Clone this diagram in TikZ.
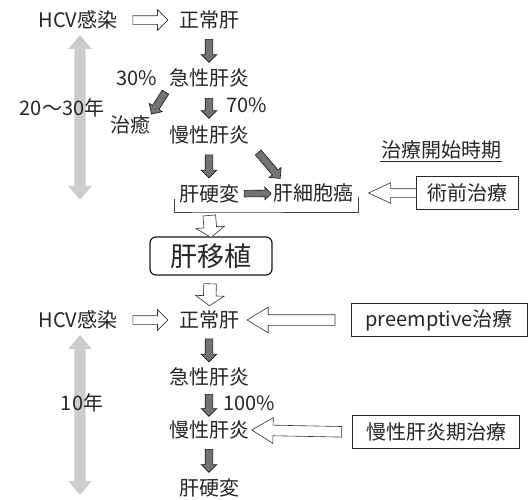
\documentclass[tikz,border=0pt]{standalone}
\usepackage{fontspec}
\setmainfont{Noto Sans CJK JP}
\usetikzlibrary{shapes.arrows}
\begin{document}
\begin{tikzpicture}[x=1pt,y=-1pt,
  txt/.style={font=\fontsize{20}{23}\selectfont, inner sep=1pt, text=black!85},
  box/.style={txt, draw=black!85, line width=0.9pt, inner xsep=8pt, minimum height=33pt},
  darr/.style={single arrow, draw=black!90, fill=black!55, line width=0.6pt,
    inner xsep=0pt, inner ysep=3.5pt, single arrow head extend=4pt,
    single arrow tip angle=90, sloped, allow upside down, minimum height=#1},
  sarr/.style={darr=#1, inner ysep=3pt, single arrow head extend=3pt},
  harr/.style={single arrow, draw=black!80, fill=white, line width=0.6pt,
    inner xsep=0pt, inner ysep=4pt, single arrow head extend=6pt,
    single arrow tip angle=90, sloped, allow upside down, minimum height=#1},
  vharr/.style={harr=#1, inner ysep=6pt, single arrow head extend=8pt, single arrow tip angle=110},
  mharr/.style={harr=#1, inner ysep=4pt, single arrow head extend=6pt, single arrow tip angle=50},
  bharr/.style={harr=#1, inner ysep=5pt, single arrow head extend=7.5pt, single arrow tip angle=62},
  garr/.style={double arrow, fill=black!20, draw=none, inner xsep=0pt, inner ysep=5.5pt,
    double arrow head extend=6pt, double arrow tip angle=80, rotate=90, minimum height=#1},
]
\useasboundingbox[fill=white] (0,0) rectangle (529,499);
% background duration arrows
\node[garr=165] (g1) at (80,117.5) {};
\node[garr=160] (g2) at (80,415) {};
% top section
\node[txt] (hcv1) at (78,20) {HCV感染};
\node[txt] (nl1) at (209,20) {正常肝};
\node[txt] (ah1) at (209,78) {急性肝炎};
\node[txt] (p30) at (137,78) {30\%};
\node[txt] (cure) at (130,125) {治癒};
\node[txt] (y1) at (62,108) {20〜30年};
\node[txt] (p70) at (247,105) {70\%};
\node[txt] (ch1) at (209,135) {慢性肝炎};
\node[txt] (lc1) at (209,194) {肝硬変};
\node[txt] (hcc) at (313,193) {肝細胞癌};
\node[txt] (title) at (441,150) {治療開始時期};
\draw[black!85, line width=0.7pt] ([yshift=-1pt]title.south west) -- ([yshift=-1pt]title.south east);
\node[box, minimum width=102pt] (pre) at (467,193) {術前治療};
% bracket
\coordinate (bl) at (174,199);
\coordinate (br) at (358,197);
\coordinate (bm) at (209,212);
\draw[black!75, line width=0.7pt] (bl) |- (bm) -| (br);
% transplant
\node[txt, font=\fontsize{27}{30}\selectfont, draw=black!90, line width=1.2pt, rounded corners=6pt,
  minimum width=122pt, minimum height=38pt, inner sep=2pt] (tx) at (211,256) {肝移植};
% bottom section
\node[txt] (hcv2) at (78,320) {HCV感染};
\node[txt] (nl2) at (209,320) {正常肝};
\node[box, minimum width=176pt] (pe) at (439,320) {preemptive治療};
\node[txt] (ah2) at (209,377) {急性肝炎};
\node[txt] (y2) at (82,403) {10年};
\node[txt] (p100) at (249,403) {100\%};
\node[txt] (ch2) at (209,430) {慢性肝炎};
\node[box, minimum width=167pt] (cp) at (436,432) {慢性肝炎期治療};
\node[txt] (lc2) at (209,488) {肝硬変};
% connectors
\path (hcv1) -- node[harr=35] (a1) {} (nl1);
\path (nl1) -- node[darr=23] (a2) {} (ah1);
\path (ah1) -- node[darr=20] (a3) {} (ch1);
\path (ch1) -- node[darr=23] (a4) {} (lc1);
\path ([xshift=2pt]ch1.south east) -- node[darr=34] (a5) {} ([xshift=12pt,yshift=0pt]hcc.north west);
\path (lc1) -- node[sarr=27] (a6) {} (hcc);
\path (ah1.south west) -- node[darr=26] (a7) {} (cure.north east);
\path (pre.west) -- node[pos=0.3, mharr=48] (a8) {} (hcc.east);
\path (bm) -- node[vharr=22] (a9) {} (tx.north);
\path (tx) -- node[vharr=22] (a10) {} (nl2);
\path (hcv2) -- node[harr=35] (a11) {} (nl2);
\path (pe.west) -- node[bharr=88] (a12) {} (nl2.east);
\path (nl2) -- node[darr=23] (a13) {} (ah2);
\path (ah2) -- node[darr=22] (a14) {} (ch2);
\path (cp.west) -- node[bharr=90] (a15) {} (ch2.east);
\path (ch2) -- node[darr=23] (a16) {} (lc2);
\end{tikzpicture}
\end{document}
